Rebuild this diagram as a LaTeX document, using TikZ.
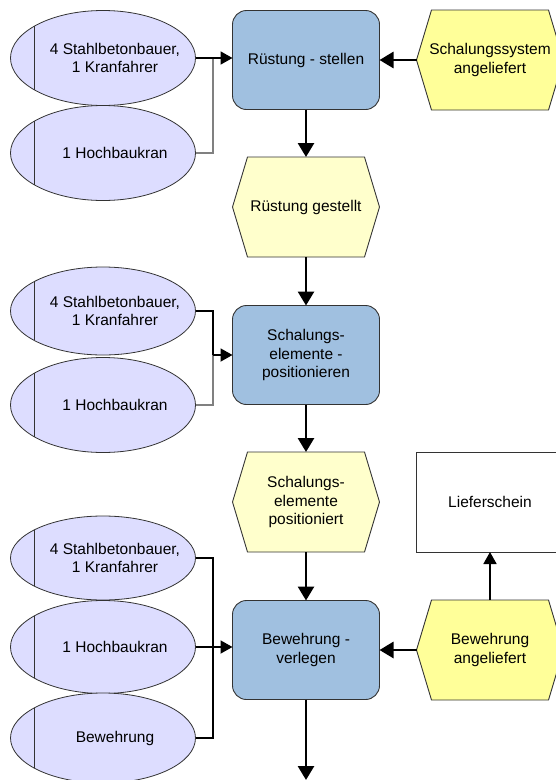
\documentclass[tikz,border=0pt]{standalone}
\usepackage{fontspec}
\setmainfont{Liberation Sans}
\usetikzlibrary{arrows.meta,shapes.geometric,backgrounds,calc}

\definecolor{taskblue}{HTML}{A0C0E0}
\definecolor{evyellow}{HTML}{FFFF99}
\definecolor{evpale}{HTML}{FFFFCC}
\definecolor{reslilac}{HTML}{DDDDFF}
\definecolor{edgegray}{HTML}{333333}

% hexagonal event outline around a (borderless) text node
\newcommand{\evhex}[2]{%
  \begin{scope}[on background layer]
    \draw[hexa, fill=#2] ([xshift=15pt]#1.north west) -- ([xshift=-15pt]#1.north east)
      -- (#1.east) -- ([xshift=-15pt]#1.south east) -- ([xshift=15pt]#1.south west)
      -- (#1.west) -- cycle;
  \end{scope}}

% resource ellipse: name, centre y, height, text
\newcommand{\resnode}[4]{%
  \node[res, minimum height=#3pt] (#1) at (103,#2) {};
  \node (#1t) at (115,#2) {#4};
  \draw[draw=edgegray, line width=0.8pt]
    ($(#1.center)+(-69,{-0.333*#3})$) -- ($(#1.center)+(-69,{0.333*#3})$);}

\begin{document}
\begin{tikzpicture}[x=1pt,y=-1pt,
  every node/.style={font=\fontsize{15.5}{18.5}\selectfont, align=center, inner sep=0pt, outer sep=0pt},
  task/.style={draw=edgegray, line width=0.9pt, fill=taskblue, rounded corners=14pt,
    minimum width=147pt, minimum height=99pt},
  evtbox/.style={minimum width=147pt, minimum height=100pt},
  hexa/.style={draw=edgegray, line width=0.9pt},
  docbox/.style={draw=edgegray, line width=0.8pt, fill=white, minimum width=147pt, minimum height=100pt},
  res/.style={ellipse, draw=edgegray, line width=0.8pt, fill=reslilac, minimum width=185pt},
  flow/.style={line width=2.8pt, -{Triangle[length=14pt,width=16pt]}},
  feed/.style={line width=1.8pt, -{Triangle[length=12pt,width=13pt]}},
  mainjoin/.style={line width=1.6pt},
  sidejoin/.style={line width=1.2pt, draw=gray},
  plainjoin/.style={line width=1.3pt}
]
\useasboundingbox (0,0) rectangle (555,780);
\begin{scope}[on background layer]
  \fill[white] (0,0) rectangle (555,780);
\end{scope}

% ---- functions ----
\node[task] (t1) at (306,60)  {Rüstung - stellen};
\node[task] (t2) at (306,355) {Schalungs-\\elemente -\\positionieren};
\node[task] (t3) at (306,650) {Bewehrung -\\verlegen};

% ---- events ----
\node[evtbox] (ev1) at (490,60)  {Schalungssystem\\angeliefert};
\evhex{ev1}{evyellow}
\node[evtbox] (ev2) at (306,207) {Rüstung gestellt};
\evhex{ev2}{evpale}
\node[evtbox] (ev3) at (306,502) {Schalungs-\\elemente\\positioniert};
\evhex{ev3}{evpale}
\node[evtbox] (ev4) at (490,650) {Bewehrung\\angeliefert};
\evhex{ev4}{evyellow}

% ---- document ----
\node[docbox] (ls) at (490,502) {Lieferschein};

% ---- resources ----
\resnode{e1}{58}{95}{4 Stahlbetonbauer,\\1 Kranfahrer}
\resnode{e2}{153}{95}{1 Hochbaukran}
\resnode{e3}{311}{88}{4 Stahlbetonbauer,\\1 Kranfahrer}
\resnode{e4}{405}{95}{1 Hochbaukran}
\resnode{e5}{558}{84}{4 Stahlbetonbauer,\\1 Kranfahrer}
\resnode{e6}{647}{93}{1 Hochbaukran}
\resnode{e7}{738}{90}{Bewehrung}

% ---- control flow ----
\coordinate (flowend) at (306,780);
\draw[flow] (t1.south) -- (ev2.north);
\draw[flow] (ev2.south) -- (t2.north);
\draw[flow] (t2.south) -- (ev3.north);
\draw[flow] (ev3.south) -- (t3.north);
\draw[flow] (t3.south) -- (flowend);
\draw[flow] (ev1.west) -- (t1.east);
\draw[flow] (ev4.west) -- (t3.east);
\draw[feed] (ev4.north) -- (ls.south);

% ---- resource assignment ----
\coordinate (j1) at (213,58);
\draw[sidejoin] (e2.east) -| (j1);
\draw[feed] (e1.east) -- (e1.east -| t1.west);

\coordinate (j2) at (213,355);
\draw[sidejoin] (e4.east) -| (j2);
\draw[mainjoin] (e3.east) -| (j2);
\draw[feed] (j2) -- (t2.west);

\coordinate (j3) at (213,647);
\draw[plainjoin] (e5.east) -| (j3);
\draw[plainjoin] (e7.east) -| (j3);
\draw[feed] (e6.east) -- (e6.east -| t3.west);
\end{tikzpicture}
\end{document}
